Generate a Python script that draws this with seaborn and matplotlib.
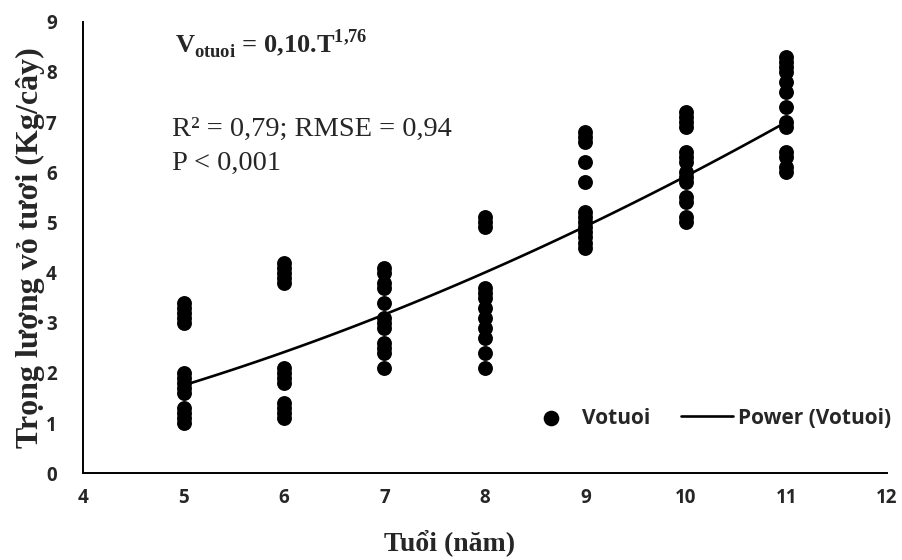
import numpy as np
import pandas as pd
import matplotlib
matplotlib.use("Agg")
import matplotlib.pyplot as plt
import seaborn as sns

# Fresh bark weight (kg/tree), one list per age (years)
ages = [5, 6, 7, 8, 9, 10, 11]
w5 = [1.0, 1.1, 1.2, 1.3, 1.6, 1.7, 1.8, 1.9, 2.0, 3.0, 3.1, 3.2, 3.3, 3.4]
w6 = [1.1, 1.2, 1.3, 1.4, 1.8, 1.9, 2.0, 2.1, 3.8, 3.9, 4.0, 4.1, 4.2]
w7 = [2.1, 2.4, 2.5, 2.6, 2.9, 3.0, 3.1, 3.4, 3.7, 3.8, 4.0, 4.1]
w8 = [2.1, 2.4, 2.7, 2.9, 3.1, 3.3, 3.5, 3.6, 3.7, 4.9, 5.0, 5.1]
w9 = [4.5, 4.6, 4.7, 4.8, 4.9, 5.0, 5.1, 5.2, 5.8, 6.2, 6.6, 6.7, 6.8]
w10 = [5.0, 5.1, 5.4, 5.5, 5.8, 5.9, 6.0, 6.2, 6.3, 6.4, 6.9, 7.0, 7.1, 7.2]
w11 = [6.0, 6.1, 6.3, 6.4, 6.9, 7.0, 7.3, 7.6, 7.8, 8.0, 8.1, 8.2, 8.3]
weights = [w5, w6, w7, w8, w9, w10, w11]

x_ticks = [4, 5, 6, 7, 8, 9, 10, 11, 12]
y_ticks = [0, 1, 2, 3, 4, 5, 6, 7, 8, 9]

df = pd.DataFrame({
    "age": np.concatenate([[a] * len(w) for a, w in zip(ages, weights)]),
    "weight": np.concatenate(weights),
})

# power trend line like Excel: fit ln(y) = ln(a) + b*ln(x)
b, ln_a = np.polyfit(np.log(df["age"]), np.log(df["weight"]), 1)
fit_x = np.linspace(min(ages), max(ages), 100)
fit = pd.DataFrame({"age": fit_x, "weight": np.exp(ln_a) * fit_x ** b})

sns.set_style("white")
plt.rcParams["mathtext.fontset"] = "custom"
plt.rcParams["mathtext.rm"] = "Liberation Serif"
plt.rcParams["mathtext.bf"] = "Liberation Serif:bold"

fig = plt.figure(figsize=(9.03, 5.6), dpi=100)
ax = fig.add_axes([0.092, 0.155, 0.890, 0.806])

sns.scatterplot(data=df, x="age", y="weight", ax=ax, color="black", s=115,
                edgecolor="black", linewidth=0, label="Votuoi", zorder=3)
sns.lineplot(data=fit, x="age", y="weight", ax=ax, color="black", linewidth=1.9,
             label="Power (Votuoi)", zorder=4)

ax.set_xlim(4, 12)
ax.set_ylim(0, 9)
ax.set_xticks(x_ticks)
ax.set_yticks(y_ticks)
tick_font = {"family": "Open Sans", "weight": "bold", "size": 13.5}
ax.set_xticklabels([str(t) for t in x_ticks], fontdict=tick_font)
ax.set_yticklabels([str(t) for t in y_ticks], fontdict=tick_font)
ax.tick_params(axis="both", direction="in", length=5, width=1.3, color="black")
ax.tick_params(axis="x", pad=11)
ax.tick_params(axis="y", pad=19)

for side in ["top", "right"]:
    ax.spines[side].set_visible(False)
for side in ["left", "bottom"]:
    ax.spines[side].set_color("black")
    ax.spines[side].set_linewidth(1.4)

ax.set_xlabel("Tuổi (năm)", family="Liberation Serif", weight="bold", fontsize=20, labelpad=6)
ax.xaxis.set_label_coords(0.456, -0.125)
ax.set_ylabel("Trọng lượng vỏ tươi (Kg/cây)", family="Liberation Serif", weight="bold",
              fontsize=23, labelpad=1)

ax.text(0.114, 0.949, r"$\mathbf{V}_{\mathbf{otuoi}}$ = 0,10.T$^{\mathbf{1{,}76}}$",
        transform=ax.transAxes, family="Liberation Serif", weight="bold",
        fontsize=19, va="center", ha="left")
ax.text(0.111, 0.761, "R² = 0,79; RMSE = 0,94", transform=ax.transAxes,
        family="Liberation Serif", fontsize=20.5, va="center", ha="left")
ax.text(0.111, 0.687, "P < 0,001", transform=ax.transAxes,
        family="Liberation Serif", fontsize=20.5, va="center", ha="left")

ax.legend(loc="center right", bbox_to_anchor=(1.029, 0.122), ncol=2, frameon=False,
          prop={"family": "Open Sans", "weight": "bold", "size": 15}, handlelength=2.5,
          columnspacing=1.45, handletextpad=0.25, markerscale=1.05)

fig.savefig("out.png", dpi=100)
